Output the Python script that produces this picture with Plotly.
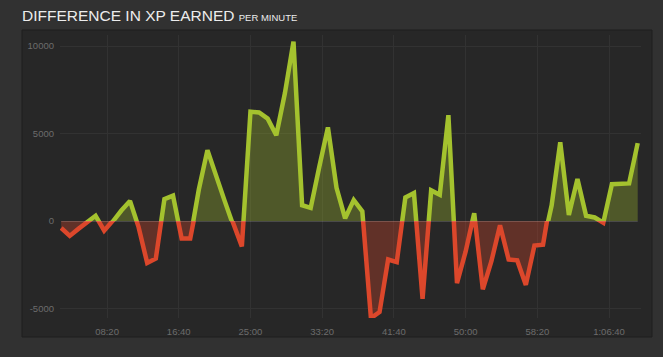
import plotly.graph_objects as go

# ---- data (per-minute XP difference) ----
minutes = list(range(3, 71))
xp_diff = [
    -400, -850, -450, -50, 300, -550, -30, 600, 1150, -350,
    -2400, -2150, 1250, 1450, -1000, -1000, 1800, 4050, 2500, 1150,
    -250, -1450, 6250, 6200, 5850, 4900, 7300, 10250, 900, 750,
    3100, 5350, 1900, 150, 1200, 550, -5550, -5200, -2200, -2350,
    1350, 1600, -4450, 1750, 1500, 6050, -3550, -1750, 450, -3900,
    -2300, -250, -2200, -2250, -3650, -1400, -1350, 900, 4500, 350,
    2400, 300, 200, -100, 2100, 2100, 2150, 4450,
]
x_tick_vals = [500, 1000, 1500, 2000, 2500, 3000, 3500, 4000]
x_tick_text = ["08:20", "16:40", "25:00", "33:20", "41:40", "50:00", "58:20", "1:06:40"]
y_top_ticks = [5000, 10000]
y_top_text = ["5000", "10000"]
y_bottom_ticks = [-5000, 0]
y_bottom_text = ["-5000", "0"]

seconds = [m * 60 for m in minutes]

# ---- styling ----
W, H = 663, 357
L, R, T, B = 60, 22, 35, 39
plot_w = W - L - R
plot_h = H - T - B
px_per_unit = 87.5 / 5000.0
zero_px_from_bottom = 318 - 221
split = zero_px_from_bottom / plot_h
top_max = (plot_h - zero_px_from_bottom) / px_per_unit
bottom_min = -zero_px_from_bottom / px_per_unit

GREEN = "#a4c22e"
GREEN_FILL = "rgba(164,194,46,0.32)"
RED = "#dc472b"
RED_FILL = "rgba(220,71,43,0.32)"
GRID = "#323232"
TICK = "#6c6c6c"

fig = go.Figure()
fig.add_trace(go.Scatter(
    x=seconds, y=xp_diff, mode="lines", xaxis="x", yaxis="y",
    line=dict(color=GREEN, width=4.5), fill="tozeroy", fillcolor=GREEN_FILL,
    hoverinfo="skip", showlegend=False,
))
fig.add_trace(go.Scatter(
    x=seconds, y=xp_diff, mode="lines", xaxis="x", yaxis="y2",
    line=dict(color=RED, width=4.5), fill="tozeroy", fillcolor=RED_FILL,
    hoverinfo="skip", showlegend=False,
))

def px_to_paper_x(px):
    return (px - L) / plot_w

def px_to_paper_y(py):
    return (H - B - py) / plot_h

# panel behind the plot
fig.add_shape(type="rect", xref="paper", yref="paper",
              x0=px_to_paper_x(22), x1=px_to_paper_x(652),
              y0=px_to_paper_y(337), y1=px_to_paper_y(30),
              fillcolor="#272727", line=dict(color="#1f1f1f", width=1), layer="below")
# zero base line
fig.add_shape(type="line", xref="x", yref="y2",
              x0=min(seconds), x1=max(seconds), y0=0, y1=0,
              line=dict(color="rgba(255,255,255,0.22)", width=1.5), layer="above")

axis_font = dict(family="Liberation Sans, Arial, sans-serif", size=9.5, color=TICK)
fig.update_layout(
    width=W, height=H,
    margin=dict(l=L, r=R, t=T, b=B, pad=0),
    paper_bgcolor="#313131",
    plot_bgcolor="rgba(0,0,0,0)",
    title=dict(
        text="DIFFERENCE IN XP EARNED <span style='font-size:9.5px'>PER MINUTE</span>",
        x=22 / W, xanchor="left", xref="container",
        y=1 - 21 / H, yanchor="bottom", yref="container",
        font=dict(family="Liberation Sans, Arial, sans-serif", size=15.5, color="#ececec"),
        pad=dict(t=0, b=0, l=0, r=0),
    ),
    xaxis=dict(
        anchor="y2", range=[172, 4223], tickvals=x_tick_vals, ticktext=x_tick_text,
        showgrid=True, gridcolor=GRID, gridwidth=1, zeroline=False, showline=False,
        ticks="", tickfont=axis_font, ticklabelstandoff=6,
    ),
    yaxis=dict(
        domain=[split, 1], range=[0, top_max], tickvals=y_top_ticks, ticktext=y_top_text,
        showgrid=True, gridcolor=GRID, zeroline=False, showline=False,
        ticks="", tickfont=axis_font, ticklabelstandoff=5, anchor="x",
    ),
    yaxis2=dict(
        domain=[0, split], range=[bottom_min, 0], tickvals=y_bottom_ticks, ticktext=y_bottom_text,
        showgrid=True, gridcolor=GRID, zeroline=False, showline=False,
        ticks="", tickfont=axis_font, ticklabelstandoff=5, anchor="x",
    ),
)

fig.write_html(
    "out.html",
    config={"displayModeBar": False},
    post_script="document.body.style.margin='0';document.body.style.background='#313131';",
)
